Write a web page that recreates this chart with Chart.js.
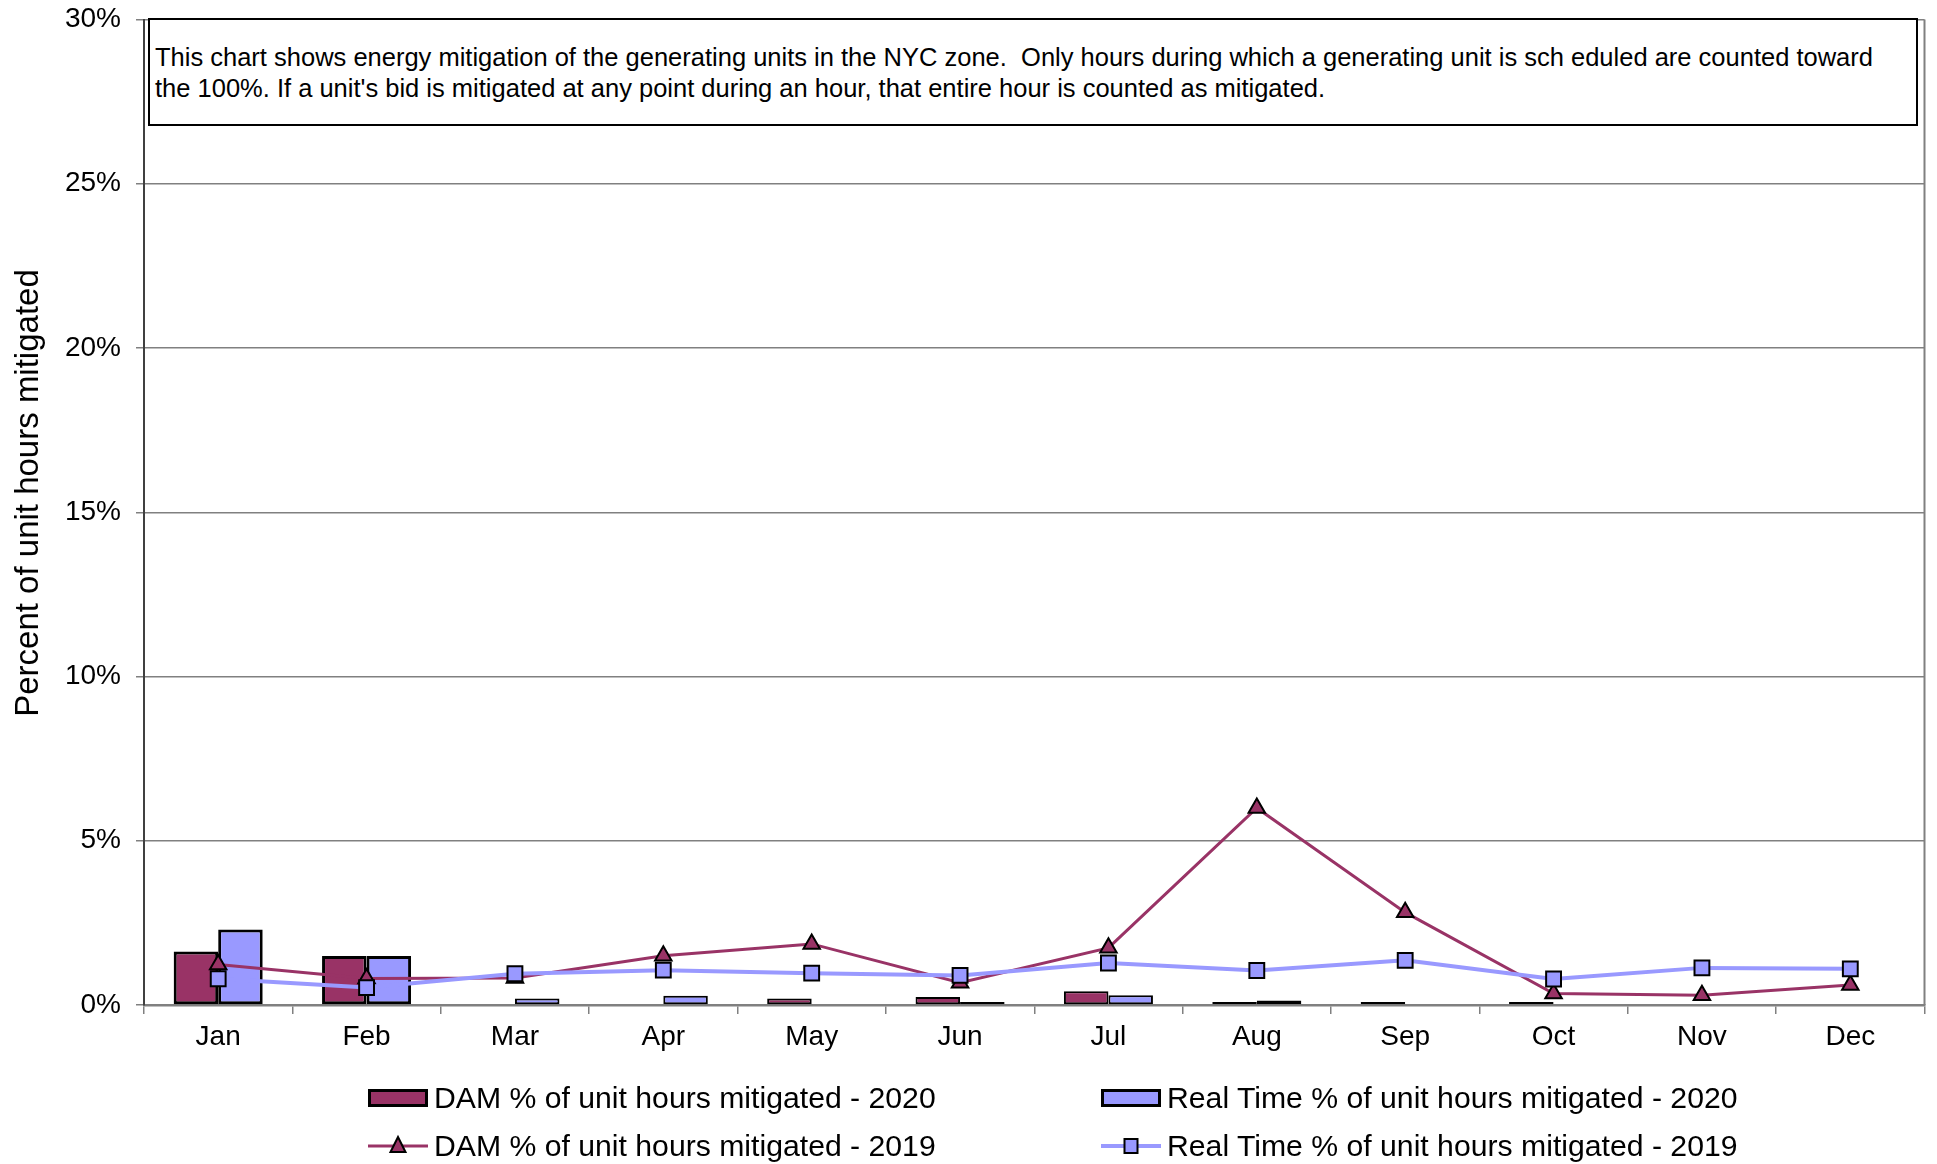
<!DOCTYPE html>
<html><head><meta charset="utf-8">
<script src="https://cdn.jsdelivr.net/npm/chart.js@4"></script>
<style>
html,body{margin:0;padding:0;background:#fff;}
#wrap{position:relative;width:1937px;height:1164px;font-family:"Liberation Sans",Arial,sans-serif;color:#000;overflow:hidden;}
#c{position:absolute;left:0;top:0;}
#note{position:absolute;left:148px;top:18px;width:1770px;height:108px;box-sizing:border-box;border:2.5px solid #000;background:#fff;font-size:25.5px;line-height:31px;padding:22px 0 0 5px;white-space:pre;}
#ytitle{position:absolute;left:-273px;top:473px;width:600px;height:40px;line-height:40px;text-align:center;font-size:33px;transform:rotate(-90deg);white-space:pre;}
.leg{position:absolute;font-size:30.2px;height:40px;display:flex;align-items:center;white-space:pre;}
.leg svg{margin-right:6px;flex:none;}
</style></head>
<body>
<div id="wrap">
<canvas id="c" width="1937" height="1164"></canvas>
<div id="ytitle"></div>
<div id="note">This chart shows energy mitigation of the generating units in the NYC zone.  Only hours during which a generating unit is sch eduled are counted toward
the 100%. If a unit's bid is mitigated at any point during an hour, that entire hour is counted as mitigated.</div>
<div class="leg" style="left:368px;top:1078px;"><svg width="60" height="20"><rect x="1.5" y="2.5" width="57" height="15" fill="#993366" stroke="#000" stroke-width="3"/></svg><span id="l0"></span></div>
<div class="leg" style="left:1101px;top:1078px;"><svg width="60" height="20"><rect x="1.5" y="2.5" width="57" height="15" fill="#9999FF" stroke="#000" stroke-width="3"/></svg><span id="l1"></span></div>
<div class="leg" style="left:368px;top:1126px;"><svg width="60" height="24"><line x1="0" y1="12" x2="60" y2="12" stroke="#993366" stroke-width="3"/><polygon points="30,3 37.5,18 22.5,18" fill="#993366" stroke="#000" stroke-width="2"/></svg><span id="l2"></span></div>
<div class="leg" style="left:1101px;top:1126px;"><svg width="60" height="24"><line x1="0" y1="12" x2="60" y2="12" stroke="#9999FF" stroke-width="4"/><rect x="23.5" y="5" width="13" height="14" fill="#9999FF" stroke="#000" stroke-width="2"/></svg><span id="l3"></span></div>
</div>
<script>
const months = ['Jan','Feb','Mar','Apr','May','Jun','Jul','Aug','Sep','Oct','Nov','Dec'];
const seriesNames = [
  'DAM % of unit hours mitigated - 2020',
  'Real Time % of unit hours mitigated - 2020',
  'DAM % of unit hours mitigated - 2019',
  'Real Time % of unit hours mitigated - 2019'
];
const dam2020 = [1.63, 1.49, null, null, 0.20, 0.24, 0.42, 0.03, 0.03, 0.03, null, null];
const rt2020  = [2.30, 1.49, 0.20, 0.28, null, 0.03, 0.30, 0.14, null, null, null, null];
const dam2019 = [1.23, 0.81, 0.82, 1.50, 1.86, 0.68, 1.74, 6.00, 2.82, 0.35, 0.30, 0.61];
const rt2019  = [0.80, 0.53, 0.95, 1.06, 0.97, 0.90, 1.28, 1.05, 1.36, 0.79, 1.13, 1.10];
const yMin = 0, yMax = 30, yStep = 5;
const yTitle = 'Percent of unit hours mitigated';

seriesNames.forEach((n, i) => { document.getElementById('l' + i).textContent = n; });
document.getElementById('ytitle').textContent = yTitle;

const FONT = '"Liberation Sans", Arial, sans-serif';

const frame = {
  id: 'frame',
  beforeDatasetsDraw(chart) {
    const a = chart.chartArea, ctx = chart.ctx;
    ctx.save();
    ctx.strokeStyle = '#808080';
    ctx.lineWidth = 2;
    ctx.beginPath();
    ctx.moveTo(a.right, a.top);
    ctx.lineTo(a.right, a.bottom);
    ctx.stroke();
    ctx.restore();
  }
};

const barBorder = ctx => {
  const v = ctx.raw;
  return (v != null && v < 0.5) ? 2 : 3;
};

new Chart(document.getElementById('c'), {
  data: {
    labels: months,
    datasets: [
      { type: 'line', label: seriesNames[3], data: rt2019, order: 1,
        borderColor: '#9999FF', borderWidth: 4, backgroundColor: '#9999FF',
        pointStyle: 'rect', pointRadius: 10.5, pointBackgroundColor: '#9999FF',
        pointBorderColor: '#000', pointBorderWidth: 2, tension: 0 },
      { type: 'line', label: seriesNames[2], data: dam2019, order: 2,
        borderColor: '#993366', borderWidth: 3, backgroundColor: '#993366',
        pointStyle: 'triangle', pointRadius: 9.5, pointBackgroundColor: '#993366',
        pointBorderColor: '#000', pointBorderWidth: 2, tension: 0 },
      { type: 'bar', label: seriesNames[0], data: dam2020, order: 3,
        backgroundColor: '#993366', borderColor: '#000', borderWidth: barBorder, borderSkipped: false,
        barPercentage: 1.0, categoryPercentage: 0.6, minBarLength: 3 },
      { type: 'bar', label: seriesNames[1], data: rt2020, order: 4,
        backgroundColor: '#9999FF', borderColor: '#000', borderWidth: barBorder, borderSkipped: false,
        barPercentage: 1.0, categoryPercentage: 0.6, minBarLength: 3 }
    ]
  },
  options: {
    responsive: false,
    animation: false,
    layout: { padding: { left: 0, top: 19.5, right: 11, bottom: 99 } },
    plugins: { legend: { display: false }, tooltip: { enabled: false } },
    scales: {
      x: {
        offset: true,
        grid: { offset: true, drawOnChartArea: false, drawTicks: true, tickLength: 9, color: '#808080', lineWidth: 1.5 },
        border: { color: '#808080', width: 2.5 },
        ticks: { color: '#000', font: { family: FONT, size: 28 }, padding: 6, maxRotation: 0 },
        afterFit(s) { s.height = 60; s.paddingLeft = 0; s.paddingRight = 0; }
      },
      y: {
        min: yMin, max: yMax,
        ticks: { stepSize: yStep, color: '#000', font: { family: FONT, size: 28 }, padding: 15,
                 callback: v => v + '%' },
        grid: { color: '#808080', lineWidth: 1.5, tickLength: 8 },
        border: { color: '#404040', width: 2 },
        title: { display: false },
        afterFit(s) { s.width = 144; s.paddingTop = 0; s.paddingBottom = 0; }
      }
    }
  },
  plugins: [frame]
});
</script>
</body></html>
